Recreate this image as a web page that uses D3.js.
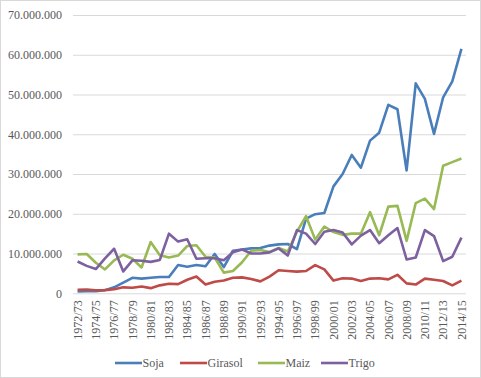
<!DOCTYPE html>
<html><head><meta charset="utf-8">
<script src="https://cdn.jsdelivr.net/npm/d3@7"></script>
<style>body{margin:0;background:#fff}svg{display:block}</style>
</head><body><svg id="c" width="481" height="378"></svg>
<script>
const seasons = ["1972/73","1973/74","1974/75","1975/76","1976/77","1977/78","1978/79","1979/80","1980/81","1981/82","1982/83","1983/84","1984/85","1985/86","1986/87","1987/88","1988/89","1989/90","1990/91","1991/92","1992/93","1993/94","1994/95","1995/96","1996/97","1997/98","1998/99","1999/00","2000/01","2001/02","2002/03","2003/04","2004/05","2005/06","2006/07","2007/08","2008/09","2009/10","2010/11","2011/12","2012/13","2013/14","2014/15"];
const soja = [0.45,0.5,0.5,0.8,1.5,2.7,3.9,3.7,3.9,4.1,4.1,7.1,6.7,7.1,6.8,9.9,6.6,10.7,11.0,11.3,11.4,12.0,12.3,12.4,11.1,18.8,19.9,20.2,26.9,30.0,34.8,31.6,38.4,40.4,47.4,46.3,30.9,52.8,48.9,40.1,49.3,53.3,61.5];
const girasol = [0.9,0.95,0.75,0.8,1.0,1.5,1.4,1.7,1.3,2.0,2.4,2.3,3.4,4.2,2.2,2.9,3.2,3.9,4.0,3.6,3.0,4.2,5.8,5.6,5.45,5.6,7.1,6.0,3.2,3.8,3.7,3.1,3.7,3.8,3.5,4.65,2.5,2.2,3.7,3.4,3.1,2.0,3.2];
const maiz = [9.8,9.9,7.7,6.0,8.3,9.7,8.7,6.5,12.9,9.6,9.0,9.5,11.9,12.1,9.2,9.0,5.2,5.6,7.8,10.7,10.9,10.4,11.4,10.5,15.5,19.4,13.5,16.8,15.4,14.7,15.0,15.0,20.4,14.6,21.8,22.0,13.2,22.7,23.8,21.2,32.1,33.0,33.9];
const trigo = [8.0,6.9,6.1,8.8,11.2,5.5,8.3,8.2,7.9,8.4,15.0,13.0,13.6,8.7,8.8,8.8,8.3,10.3,11.0,10.0,10.0,10.3,11.3,9.5,15.9,15.0,12.4,15.5,15.9,15.3,12.3,14.5,15.9,12.6,14.6,16.4,8.5,9.0,15.9,14.4,8.1,9.2,14.0];
const seriesNames = ["Soja","Girasol","Maiz","Trigo"];
const seriesColors = ["#4A7EBB","#BE4B48","#98B954","#7D60A0"];
const yTicks = [0,10000000,20000000,30000000,40000000,50000000,60000000,70000000];
const xLabels = seasons.filter((d,i)=>i%2===0);

const svg = d3.select("#c");
const font = "Liberation Serif, DejaVu Serif, Noto Serif, serif";
svg.append("rect").attr("x",0.5).attr("y",0.5).attr("width",480).attr("height",377)
  .attr("fill","#fff").attr("stroke","#d9d9d9");

const L=73,R=466,T=15,B=293.3;
const x = d3.scaleBand().domain(seasons).range([L,R]);
const y = d3.scaleLinear().domain([0,70000000]).range([B,T]);
const loc = d3.formatLocale({decimal:",",thousands:".",grouping:[3],currency:["",""]});
const fmt = loc.format(",d");

const yAxis = svg.append("g").attr("transform",`translate(${L},0)`)
  .call(d3.axisLeft(y).tickValues(yTicks).tickFormat(fmt).tickSize(-(R-L)).tickPadding(11));
yAxis.attr("font-family",font);
yAxis.select(".domain").remove();
yAxis.selectAll("line").attr("stroke","#d9d9d9").attr("stroke-width",1);
yAxis.selectAll("text").attr("font-family",font).attr("font-size",12).attr("fill","#595959");

const xAxis = svg.append("g").attr("transform",`translate(0,${B})`)
  .call(d3.axisBottom(x).tickValues(xLabels).tickSize(0).tickPadding(0));
xAxis.attr("font-family",font);
xAxis.select(".domain").remove();
xAxis.selectAll("text").attr("font-family",font).attr("font-size",12).attr("fill","#595959")
  .attr("text-anchor","end").attr("transform","rotate(-90)")
  .attr("x",-7).attr("y",0).attr("dy","0.35em");

const all=[soja,girasol,maiz,trigo];
const line = d3.line().x((d,i)=>x(seasons[i])+x.bandwidth()/2).y(d=>y(d*1e6));
all.forEach((s,k)=>{
  svg.append("path").datum(s).attr("d",line).attr("fill","none")
    .attr("stroke",seriesColors[k]).attr("stroke-width",2.6).attr("stroke-linejoin","round");
});

const lg = svg.append("g");
const legendX = [115,180,258,321]; const ly = 363;
seriesNames.forEach((n,k)=>{
  const lx = legendX[k];
  lg.append("line").attr("x1",lx).attr("x2",lx+27).attr("y1",ly).attr("y2",ly)
    .attr("stroke",seriesColors[k]).attr("stroke-width",2.6);
  lg.append("text").attr("x",lx+27.5).attr("y",ly).attr("dy","0.35em")
    .attr("font-family",font).attr("font-size",12).attr("fill","#595959").text(n);
});
</script></body></html>
